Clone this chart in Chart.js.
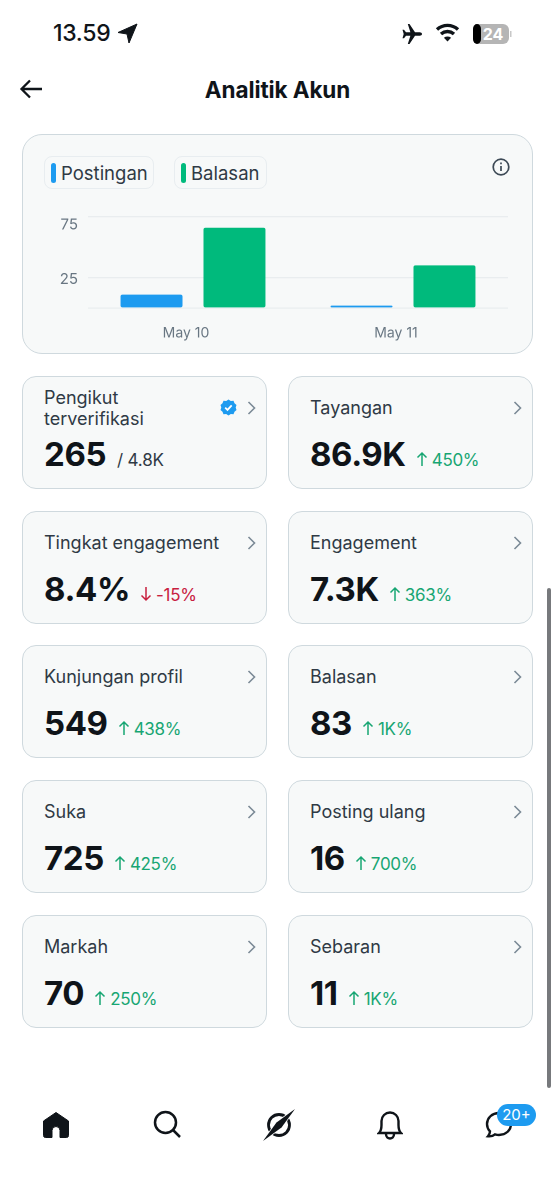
<!DOCTYPE html>
<html lang="id">

<head>
    <meta charset="UTF-8">
    <title>Analitik Akun</title>
    <script src="https://cdn.jsdelivr.net/npm/chart.js"></script>
    <style>
        html, body { margin: 0; padding: 0; width: 555px; height: 1200px; overflow: hidden; background: #fff; }
        body { font-family: 'Inter', 'Roboto', sans-serif; color: #0f1419; position: relative; }
        .abs { position: absolute; }
        .time { left: 53px; top: 19px; font-size: 23px; font-weight: 500; line-height: 28px; letter-spacing: -0.3px; }
        .title { left: 0; width: 555px; top: 76px; text-align: center; font-size: 22.500px; font-weight: 700; line-height: 27px; letter-spacing: -0.1px; }
        .panel { left: 22px; top: 134px; width: 509px; height: 218px; background: #f7f9f9; border: 1.5px solid #cfd9de; border-radius: 20px; }
        .chip { top: 156px; height: 31px; border: 1px solid #e8edf0; border-radius: 8px; font-size: 18.500px; line-height: 33px; color: #2f3a45; box-sizing: content-box; }
        .chip i { position: absolute; left: 6px; top: 6px; width: 5px; height: 20px; border-radius: 3px; }
        .chip span { position: absolute; left: 16px; top: 0; white-space: nowrap; }
        #chartBox { left: 23px; top: 194px; width: 509px; height: 150px; }
        .card { width: 243px; height: 111px; background: #f7f9f9; border: 1.5px solid #cfd9de; border-radius: 14px; }
        .label { position: absolute; left: 21px; top: 20px; font-size: 18px; line-height: 21px; color: #2f3a45; white-space: nowrap; }
        .chev { position: absolute; right: 10px; top: 23px; }
        .row { position: absolute; left: 21px; top: 55px; height: 44px; display: flex; align-items: baseline; white-space: nowrap; }
        .value { font-size: 33px; font-weight: 700; line-height: 44px; letter-spacing: -0.4px; }
        .delta { font-size: 17px; margin-left: 10px; letter-spacing: -0.3px; }
        .delta svg { margin-right: 4px; vertical-align: -1px; }
        .of { font-size: 17px; margin-left: 11px; color: #2f3a45; letter-spacing: -0.2px; }
        .scroll { left: 547px; top: 588px; width: 4px; height: 500px; background: #77797c; border-radius: 2px; }
        .badge { left: 497px; top: 1104px; width: 39px; height: 22px; border-radius: 11px; background: #1d9bf0; color: #fff; font-size: 15px; line-height: 22px; text-align: center; }
    </style>
</head>

<body>
    <div class="abs time">13.59</div>
    <svg class="abs" style="left:117px;top:23px" width="21" height="21" viewBox="0 0 21 21"><path d="M20 1 L1 9.500 L10 11 L12 20 Z" fill="#0f1419" stroke="#0f1419" stroke-linejoin="round"/></svg>
    <svg class="abs" style="left:401px;top:23px" width="22" height="22" viewBox="0 0 22 22"><path d="M21 11c0-1-1-1.700-2.200-1.700H14L8.500 1H6.800l2.600 8.300H5L3 6.800H1.500L2.700 11 1.500 15.200H3L5 12.700h4.400L6.800 21h1.700L14 12.700h4.800C20 12.700 21 12 21 11z" fill="#0f1419"/></svg>
    <svg class="abs" style="left:435px;top:21px" width="25" height="22" viewBox="0 0 25 22" fill="none" stroke="#0f1419" stroke-width="3.400"><path d="M2 8.500c6-5.500 15-5.500 21 0"/><path d="M6 13c3.800-3.400 9.200-3.400 13 0"/><path d="M12.500 20.500l-3.600-3.800c2-1.600 5.200-1.600 7.200 0z" fill="#0f1419" stroke="none"/></svg>
    <svg class="abs" style="left:472px;top:23px" width="42" height="22" viewBox="0 0 42 22"><rect x="1" y="1" width="36" height="20" rx="6" fill="#b5b5b5"/><rect x="1" y="1" width="8" height="20" rx="5" fill="#000"/><rect x="38" y="8" width="1.500" height="6" fill="#c8c8c8"/><text x="21" y="17" text-anchor="middle" font-family="Inter" font-weight="700" font-size="16" fill="#fff">24</text></svg>

    <svg class="abs" style="left:19px;top:77px" width="24" height="24" viewBox="0 0 24 24" fill="none" stroke="#0f1419" stroke-width="2.300"><path d="M23 12H3M11 3.500L2.500 12 11 20.500"/></svg>
    <div class="abs title">Analitik Akun</div>

    <div class="abs panel"></div>
    <div id="legend"></div>
    <svg class="abs" style="left:492px;top:158px" width="18" height="18" viewBox="0 0 18 18" fill="none" stroke="#3d4a56" stroke-width="1.700"><circle cx="9" cy="9" r="7.800"/><path d="M9 8v5"/><path d="M9 4.600v1.700"/></svg>
    <div class="abs" id="chartBox"><canvas id="activityChart"></canvas></div>

    <div id="cards"></div>
    <div class="abs scroll"></div>

    <svg class="abs" style="left:41px;top:1110px" width="30" height="30" viewBox="0 0 30 30"><path d="M15 2.500L2.500 11v14.500a2 2 0 0 0 2 2h6.500v-7a4 4 0 0 1 8 0v7h6.500a2 2 0 0 0 2-2V11z" fill="#0f1419" stroke="#0f1419" stroke-linejoin="round"/></svg>
    <svg class="abs" style="left:152px;top:1109px" width="30" height="30" viewBox="0 0 30 30" fill="none" stroke="#0f1419" stroke-width="2.500"><circle cx="13.500" cy="13.500" r="10.500"/><path d="M21 21l7 7"/></svg>
    <svg class="abs" style="left:262px;top:1108px" width="34" height="34" viewBox="0 0 34 34"><circle cx="17" cy="17" r="10.500" fill="none" stroke="#0f1419" stroke-width="2.800"/><path d="M33 1 L19.500 19.500 L1 33 L14.500 14.500 Z" fill="#0f1419" stroke="#fff" stroke-width="1.600" paint-order="stroke"/></svg>
    <svg class="abs" style="left:377px;top:1110px" width="26" height="30" viewBox="0 0 26 30" fill="none" stroke="#0f1419" stroke-width="2.400"><path d="M2 23c2-2 2.500-4 2.500-8V11a8.500 8.500 0 0 1 17 0v4c0 4 .5 6 2.500 8z"/><path d="M9 24c0 6 8 6 8 0"/></svg>
    <svg class="abs" style="left:485px;top:1110px" width="30" height="30" viewBox="0 0 30 30" fill="none" stroke="#0f1419" stroke-width="2.400"><path d="M14 3C7 3 2 8 2 14c0 3 1.200 5.500 3 7.300 0 2-.8 3.700-2 5 3 .3 5.500-.6 7-2 1.300.4 2.600.7 4 .7 7 0 12-5 12-11S21 3 14 3z"/></svg>
    <div class="abs badge">20+</div>

    <script>
        const categories = ['May 10', 'May 11'];
        const postingan = [11, 2];
        const balasan = [66, 35];
        const yTicks = [0, 25, 75];

        const cardLabels = ['Pengikut<br>terverifikasi', 'Tayangan', 'Tingkat engagement', 'Engagement', 'Kunjungan profil', 'Balasan', 'Suka', 'Posting ulang', 'Markah', 'Sebaran'];
        const cardValues = ['265', '86.9K', '8.4%', '7.3K', '549', '83', '725', '16', '70', '11'];
        const cardDeltas = ['', '450%', '-15%', '363%', '438%', '1K%', '425%', '700%', '250%', '1K%'];
        const cardTops = [376, 511, 645, 780, 915];
        const cardLefts = [22, 288];

        const BLUE = '#1d9bf0';
        const GREEN = '#00ba7c';

        // legend chips
        document.getElementById('legend').innerHTML = [
            ['Postingan', BLUE, 44, 108],
            ['Balasan', GREEN, 174, 91]
        ].map(c => `<div class="abs chip" style="left:${c[2]}px;width:${c[3]}px"><i style="background:${c[1]}"></i><span>${c[0]}</span></div>`).join('');

        // kartu metrik
        function arrow(up, color) {
            const d = up ? 'M6 15V2M1.500 6.500L6 2l4.500 4.500' : 'M6 1v13M1.500 9.500L6 14l4.500-4.500';
            return `<svg width="12" height="16" viewBox="0 0 12 16" fill="none" stroke="${color}" stroke-width="1.500"><path d="${d}"/></svg>`;
        }

        const verified = `<svg class="abs" style="left:197px;top:22px" width="17" height="17" viewBox="0 0 17 17"><path d="M8.500 .5l2.300 1.500 2.700-.2 1 2.500 2 1.800-.8 2.400.8 2.400-2 1.800-1 2.500-2.700-.2-2.300 1.500-2.300-1.500-2.700.2-1-2.500-2-1.800.8-2.400L.5 6.100l2-1.800 1-2.500 2.700.2z" fill="${BLUE}"/><path d="M5.200 8.700l2.300 2.200 4.200-4.500" fill="none" stroke="#fff" stroke-width="1.800"/></svg>`;

        document.getElementById('cards').innerHTML = cardLabels.map((label, i) => {
            const left = cardLefts[i % 2];
            const top = cardTops[Math.floor(i / 2)];
            const delta = cardDeltas[i];
            const color = delta.startsWith('-') ? '#c8203f' : '#17a673';
            const extra = i === 0
                ? '<span class="of">/ 4.8K</span>'
                : `<span class="delta" style="color:${color}">${arrow(!delta.startsWith('-'), color)}${delta}</span>`;
            const labelTop = i === 0 ? 10 : 20;
            return `<div class="abs card" style="left:${left}px;top:${top}px">
                <div class="label" style="top:${labelTop}px">${label}</div>
                ${i === 0 ? verified : ''}
                <svg class="chev" width="9" height="16" viewBox="0 0 9 16" fill="none" stroke="#7b8a96" stroke-width="1.600"><path d="M1.500 2l6 6-6 6"/></svg>
                <div class="row"><span class="value">${cardValues[i]}</span>${extra}</div>
            </div>`;
        }).join('');

        // chart
        const ctx = document.getElementById('activityChart').getContext('2d');
        new Chart(ctx, {
            type: 'bar',
            data: {
                labels: categories,
                datasets: [
                    { label: 'Postingan', data: postingan, backgroundColor: BLUE },
                    { label: 'Balasan', data: balasan, backgroundColor: GREEN }
                ]
            },
            options: {
                responsive: true,
                maintainAspectRatio: false,
                animation: false,
                devicePixelRatio: 2,
                layout: { padding: { top: 11, right: 24, left: 0, bottom: 0 } },
                categoryPercentage: 0.79,
                barPercentage: 0.747,
                borderRadius: 2,
                borderSkipped: false,
                plugins: { legend: { display: false }, tooltip: { enabled: false } },
                scales: {
                    x: {
                        afterFit: scale => { scale.height = 36; },
                        grid: { display: false },
                        border: { display: false },
                        ticks: {
                            color: '#687682',
                            padding: 9,
                            labelOffset: -7,
                            maxRotation: 0,
                            font: { family: 'Inter', size: 14 }
                        }
                    },
                    y: {
                        min: 0,
                        max: 75,
                        afterFit: scale => { scale.width = 65; },
                        afterBuildTicks: scale => { scale.ticks = yTicks.map(v => ({ value: v })); },
                        grid: { color: '#e9edef', lineWidth: 1.2, drawTicks: false },
                        border: { display: false },
                        ticks: {
                            color: '#687682',
                            padding: 10,
                            labelOffset: 2,
                            font: { family: 'Inter', size: 15, lineHeight: 0.85 },
                            // label 75 sits just under its gridline in the original
                            callback: v => v === 0 ? '' : (v === 75 ? ['', '75'] : String(v))
                        }
                    }
                }
            }
        });
    </script>
</body>

</html>
